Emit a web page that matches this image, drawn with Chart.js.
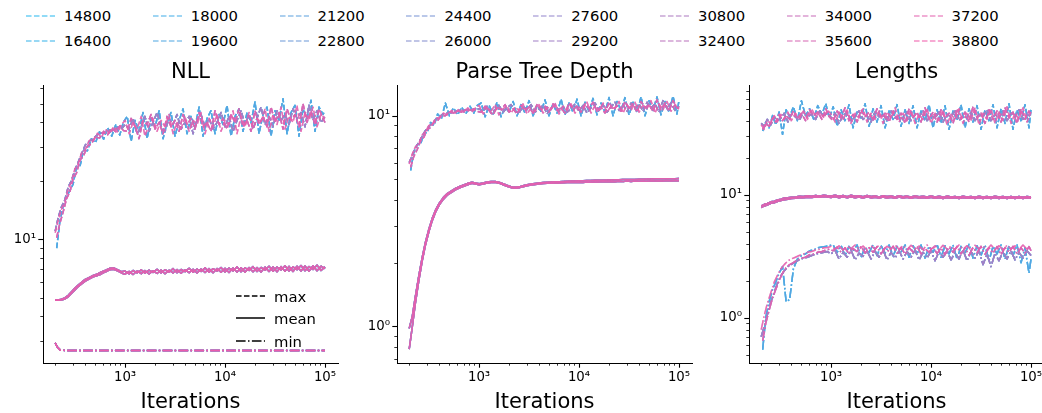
<!DOCTYPE html>
<html>
<head>
<meta charset="utf-8">
<script src="https://cdn.jsdelivr.net/npm/chart.js@4.4.0/dist/chart.umd.min.js"></script>
<style>
    html, body { margin: 0; padding: 0; background: #fff; overflow: hidden; width: 1042px; height: 413px; }
    body { position: relative; font-family: 'DejaVu Sans', sans-serif; }
    canvas { position: absolute; }
    .legend-item { position: absolute; height: 20px; display: flex; align-items: center; font-size: 14.8px; color: #000; white-space: nowrap; }
    .legend-item svg { margin-right: 9px; }
</style>
</head>
<body>
<div id="legend"></div>
<canvas id="nllChart" width="358" height="352" style="left:0px;top:61px"></canvas>
<canvas id="depthChart" width="358" height="352" style="left:354px;top:61px"></canvas>
<canvas id="lengthChart" width="358" height="352" style="left:706px;top:61px"></canvas>
<div id="inner-legend"></div>
<script>
// ---- data ----
const runLabels = ['14800', '16400', '18000', '19600', '21200', '22800', '24400', '26000',
    '27600', '29200', '30800', '32400', '34000', '35600', '37200', '38800'];

// which estimated trace each run follows (noisy curves have 4 traces, smooth ones 2)
const noisyTraceOfRun = [3, 3, 3, 2, 3, 2, 2, 2, 2, 1, 2, 1, 0, 1, 1, 0];
const smoothTraceOfRun = [0, 1, 0, 1, 0, 1, 0, 1, 0, 1, 0, 1, 0, 1, 1, 0];

// logged iterations: noisy traces A/C are sampled on the first grid, B/D on the second
const iterations = [200, 215, 230, 250, 270, 290, 315, 340, 370, 400, 440, 480, 530, 580, 640, 700, 770, 850, 920,
    1000, 1100, 1200, 1320, 1450, 1580, 1740, 1900, 2090, 2290, 2510, 2750, 3020, 3310, 3630, 3980, 4370, 4790, 5250, 5750,
    6310, 6920, 7590, 8320, 9120, 10000, 10960, 12020, 13180, 14450, 15850, 17380, 19050, 20890, 22910, 25120, 27540, 30200,
    33110, 36310, 39810, 43650, 47860, 52480, 57540, 63100, 69180, 75860, 83180, 91200, 100000];
const iterationsB = [207, 222, 240, 260, 280, 302, 327, 355, 385, 420, 460, 505, 555, 610, 670, 735, 810, 885, 960,
    1050, 1150, 1260, 1380, 1510, 1660, 1820, 1995, 2190, 2400, 2630, 2880, 3160, 3470, 3800, 4170, 4570, 5010, 5500, 6030,
    6610, 7240, 7940, 8710, 9550, 10470, 11480, 12590, 13800, 15140, 16600, 18200, 19950, 21880, 23990, 26300, 28840, 31620,
    34670, 38020, 41690, 45710, 50120, 54950, 60260, 66070, 72440, 79430, 87100, 95500, 100000];

// NLL
const nllMaxA = [10.8, 12.6, 14.2, 15.5, 18.2, 19.6, 23.1, 24.4, 28.3, 29.0, 32.4, 32.1, 35.2, 33.6, 36.8, 34.9, 38.1, 35.6, 39.0,
    41, 35, 40, 37, 43, 34, 39, 42, 36, 41, 38, 44, 35, 40, 37, 43, 36, 41, 39, 45, 35, 42, 38, 44, 36, 41, 39, 46, 35, 43,
    38, 45, 37, 42, 40, 47, 36, 44, 39, 48, 37, 43, 40, 49, 36, 45, 41, 48, 38, 44, 42];
const nllMaxB = [10.2, 12.0, 13.8, 16.2, 17.5, 20.4, 22.0, 25.6, 27.0, 30.2, 31.0, 33.8, 33.2, 36.0, 34.6, 37.2, 35.8, 38.4, 36.4,
    36, 42, 38, 33, 41, 39, 44, 37, 40, 35, 43, 38, 41, 36, 44, 39, 42, 37, 45, 38, 40, 36, 46, 39, 42, 37, 44, 40, 47, 38,
    41, 36, 46, 39, 43, 38, 48, 40, 45, 37, 47, 41, 44, 38, 50, 40, 46, 39, 47, 42, 40];
const nllMaxC = [11.0, 13.0, 14.6, 16.0, 18.6, 20.0, 22.8, 25.0, 27.8, 30.6, 32.0, 33.0, 34.6, 35.4, 35.2, 36.6, 36.2, 37.8, 37.0,
    39, 37, 42, 35, 38, 43, 36, 40, 45, 38, 36, 42, 39, 44, 37, 40, 43, 35, 41, 44, 38, 42, 37, 40, 45, 38, 43, 36, 41, 46,
    39, 44, 37, 42, 48, 39, 43, 38, 46, 41, 44, 39, 47, 42, 45, 38, 49, 41, 46, 40, 43];
const nllMaxD = [9.0, 12.2, 14.8, 16.6, 17.8, 19.2, 23.6, 24.0, 28.8, 28.6, 33.0, 31.4, 35.8, 32.8, 37.6, 34.0, 39.2, 34.4, 40.0,
    43, 32, 41, 36, 45, 33, 42, 38, 46, 33, 40, 45, 34, 41, 47, 35, 43, 38, 48, 34, 42, 46, 35, 44, 39, 49, 34, 43, 47, 36,
    45, 40, 51, 35, 44, 48, 34, 46, 41, 53, 35, 45, 49, 34, 47, 42, 52, 36, 48, 44, 46];
const nllMeanA = [4.86, 4.86, 4.9, 4.98, 5.14, 5.35, 5.6, 5.8, 6.02, 6.2, 6.36, 6.5, 6.62, 6.78, 6.92, 7.08, 7.1, 6.95, 6.8,
    6.85, 6.62, 6.9, 6.7, 6.95, 6.68, 6.92, 6.74, 7.0, 6.7, 6.96, 6.76, 7.05, 6.72, 6.98, 6.8, 7.08, 6.75, 7.02, 6.82,
    7.12, 6.76, 7.05, 6.85, 7.15, 6.78, 7.1, 6.86, 7.2, 6.8, 7.12, 6.9, 7.22, 6.82, 7.15, 6.92, 7.25, 6.84, 7.18, 6.95,
    7.3, 6.86, 7.2, 6.96, 7.32, 6.88, 7.22, 6.98, 7.35, 6.9, 7.2];
const nllMeanB = [4.84, 4.85, 4.86, 4.92, 5.05, 5.25, 5.48, 5.7, 5.9, 6.08, 6.25, 6.4, 6.5, 6.62, 6.8, 6.95, 7.0, 6.85, 6.7,
    6.6, 6.82, 6.58, 6.86, 6.64, 6.9, 6.62, 6.88, 6.66, 6.94, 6.64, 6.92, 6.7, 6.98, 6.68, 6.95, 6.72, 7.0, 6.7, 7.02,
    6.74, 7.05, 6.72, 7.06, 6.76, 7.08, 6.74, 7.1, 6.78, 7.12, 6.76, 7.14, 6.8, 7.15, 6.78, 7.18, 6.82, 7.2, 6.8, 7.22,
    6.84, 7.24, 6.82, 7.26, 6.86, 7.28, 6.84, 7.3, 6.88, 7.26, 7.05];
const nllMinIters = [200, 210, 225, 250, 1000, 10000, 100000];
const nllMin = [2.92, 2.78, 2.68, 2.67, 2.67, 2.67, 2.67];

// Parse tree depth
const depthMaxA = [5.9, 6.6, 7.1, 7.4, 8.1, 8.4, 9.0, 9.1, 9.8, 9.8, 10.3, 10.1, 10.6, 10.3, 10.8, 10.4, 10.9, 10.4, 10.9,
    11.2, 10.2, 10.9, 10.5, 11.3, 10.1, 10.8, 11.1, 10.3, 11.0, 10.6, 11.4, 10.2, 10.9, 10.5, 11.3, 10.3, 11.0, 10.7, 11.5,
    10.2, 11.1, 10.6, 11.4, 10.3, 11.0, 10.7, 11.6, 10.3, 11.2, 10.6, 11.5, 10.4, 11.1, 10.8, 11.7, 10.3, 11.3, 10.6, 11.6,
    10.4, 11.2, 10.8, 11.8, 10.3, 11.4, 10.7, 11.7, 10.5, 11.3, 10.9];
const depthMaxB = [5.7, 6.4, 6.9, 7.6, 7.9, 8.6, 8.8, 9.3, 9.5, 10.0, 10.0, 10.4, 10.3, 10.6, 10.4, 10.7, 10.5, 10.8, 10.5,
    10.4, 11.1, 10.6, 10.1, 11.0, 10.7, 11.3, 10.4, 10.8, 10.2, 11.2, 10.6, 11.0, 10.3, 11.3, 10.7, 11.1, 10.4, 11.4, 10.6,
    10.9, 10.3, 11.5, 10.7, 11.1, 10.4, 11.4, 10.8, 11.6, 10.5, 11.0, 10.3, 11.6, 10.7, 11.2, 10.5, 11.7, 10.8, 11.4, 10.4,
    11.7, 10.9, 11.3, 10.5, 11.9, 10.7, 11.5, 10.5, 11.8, 10.9, 10.8];
const depthMaxC = [6.0, 6.5, 7.0, 7.5, 8.0, 8.5, 8.9, 9.2, 9.6, 9.9, 10.2, 10.3, 10.5, 10.5, 10.6, 10.6, 10.7, 10.6, 10.7,
    10.8, 10.5, 11.1, 10.3, 10.7, 11.2, 10.4, 10.9, 11.3, 10.5, 10.3, 11.1, 10.7, 11.3, 10.4, 10.8, 11.2, 10.2, 10.9, 11.3,
    10.5, 11.1, 10.4, 10.8, 11.4, 10.5, 11.2, 10.3, 10.9, 11.5, 10.6, 11.3, 10.4, 11.0, 11.6, 10.6, 11.3, 10.5, 11.5, 10.8,
    11.4, 10.5, 11.6, 10.9, 11.4, 10.4, 11.8, 10.8, 11.5, 10.6, 11.1];
const depthMaxD = [5.5, 6.7, 7.3, 7.3, 8.3, 8.3, 9.3, 9.0, 10.2, 9.7, 11.5, 10.0, 10.9, 10.1, 11.0, 10.2, 11.1, 10.3, 11.2,
    11.5, 9.9, 11.2, 10.2, 11.6, 9.9, 11.0, 10.4, 11.7, 10.0, 11.3, 10.3, 11.8, 10.0, 11.2, 10.5, 11.9, 10.0, 11.4, 10.3,
    12.0, 10.1, 11.5, 10.4, 12.0, 10.0, 11.6, 10.5, 12.1, 10.1, 11.5, 10.4, 12.2, 10.0, 11.7, 10.6, 12.2, 10.1, 11.6, 10.4,
    12.3, 10.0, 11.8, 10.6, 12.3, 10.1, 11.7, 10.4, 12.4, 10.2, 11.9];
const depthMeanA = [0.98, 1.12, 1.38, 1.75, 2.13, 2.5, 2.9, 3.26, 3.6, 3.85, 4.1, 4.27, 4.4, 4.52, 4.62, 4.7, 4.78, 4.84, 4.8,
    4.76, 4.8, 4.85, 4.88, 4.88, 4.84, 4.76, 4.68, 4.61, 4.58, 4.6, 4.66, 4.71, 4.74, 4.77, 4.8, 4.82, 4.84, 4.85, 4.86,
    4.87, 4.88, 4.89, 4.9, 4.91, 4.92, 4.92, 4.93, 4.93, 4.94, 4.95, 4.95, 4.96, 4.96, 4.97, 4.97, 4.98, 4.98, 4.99, 4.99,
    5.0, 5.0, 5.01, 5.01, 5.02, 5.02, 5.02, 5.03, 5.03, 5.03, 5.04];
const depthMeanB = [0.78, 1.0, 1.28, 1.66, 2.05, 2.42, 2.82, 3.18, 3.52, 3.78, 4.02, 4.2, 4.33, 4.45, 4.55, 4.63, 4.71, 4.78, 4.74,
    4.7, 4.74, 4.79, 4.82, 4.83, 4.79, 4.71, 4.63, 4.56, 4.53, 4.55, 4.61, 4.66, 4.69, 4.72, 4.75, 4.77, 4.78, 4.79, 4.8,
    4.8, 4.81, 4.82, 4.82, 4.83, 4.84, 4.83, 4.85, 4.84, 4.86, 4.85, 4.87, 4.86, 4.88, 4.86, 4.89, 4.87, 4.9, 4.88, 4.9,
    4.89, 4.91, 4.89, 4.92, 4.9, 4.92, 4.9, 4.93, 4.91, 4.93, 4.92];

// Lengths
const lenMaxA = [37, 34, 40, 38, 44, 39, 45, 41, 47, 40, 46, 42, 48, 41, 50, 43, 47, 42, 49,
    45, 39, 47, 41, 49, 38, 46, 42, 50, 39, 46, 41, 48, 38, 47, 42, 51, 39, 46, 40, 49, 38, 45, 41, 50, 38, 46, 40, 49, 37,
    45, 41, 50, 38, 47, 40, 51, 37, 46, 41, 50, 38, 47, 40, 52, 38, 46, 41, 51, 39, 47];
const lenMaxB = [34, 38, 36, 42, 39, 45, 40, 44, 41, 48, 42, 46, 40, 49, 44, 47, 41, 50, 43,
    40, 48, 42, 51, 40, 45, 39, 49, 43, 47, 40, 50, 42, 46, 39, 48, 41, 46, 38, 50, 42, 47, 39, 51, 41, 47, 39, 49, 42, 46,
    38, 50, 41, 47, 39, 52, 42, 46, 38, 49, 41, 48, 39, 51, 42, 47, 38, 50, 41, 48, 44];
const lenMaxC = [38, 36, 41, 37, 43, 40, 42, 46, 39, 45, 43, 40, 47, 43, 45, 41, 48, 44, 46,
    42, 46, 38, 44, 47, 40, 43, 48, 41, 44, 39, 47, 43, 45, 40, 48, 42, 44, 41, 47, 40, 45, 43, 48, 40, 44, 42, 47, 39, 45,
    43, 48, 40, 44, 42, 47, 40, 45, 43, 49, 40, 45, 42, 48, 40, 46, 43, 49, 41, 45, 43];
const lenMaxD = [33, 39, 35, 44, 37, 47, 31, 49, 43, 52, 40, 58, 44, 50, 41, 53, 45, 55, 42,
    52, 36, 49, 40, 54, 35, 47, 42, 55, 36, 50, 39, 53, 35, 48, 41, 54, 36, 49, 38, 53, 35, 48, 40, 54, 35, 49, 38, 53, 34,
    48, 40, 54, 35, 50, 39, 53, 34, 49, 40, 54, 35, 50, 38, 55, 34, 49, 40, 54, 35, 50];
const lenMeanA = [8.1, 8.35, 8.5, 8.75, 8.85, 9.05, 9.2, 9.4, 9.45, 9.55, 9.6, 9.7, 9.65, 9.8, 9.7, 9.85, 9.75, 9.9, 9.8,
    9.75, 9.9, 9.7, 9.85, 9.65, 9.9, 9.7, 9.8, 9.62, 9.85, 9.68, 9.78, 9.6, 9.82, 9.66, 9.76, 9.6, 9.8, 9.64, 9.74,
    9.58, 9.78, 9.62, 9.72, 9.58, 9.76, 9.6, 9.7, 9.56, 9.74, 9.6, 9.68, 9.55, 9.72, 9.58, 9.68, 9.55, 9.7, 9.56, 9.66,
    9.54, 9.7, 9.56, 9.66, 9.54, 9.68, 9.55, 9.65, 9.53, 9.67, 9.6];
const lenMeanB = [7.85, 8.1, 8.25, 8.5, 8.6, 8.8, 8.95, 9.1, 9.2, 9.3, 9.35, 9.45, 9.45, 9.55, 9.5, 9.6, 9.55, 9.65, 9.6,
    9.5, 9.65, 9.45, 9.6, 9.42, 9.62, 9.45, 9.58, 9.4, 9.6, 9.42, 9.55, 9.38, 9.58, 9.4, 9.54, 9.36, 9.56, 9.4, 9.52,
    9.36, 9.54, 9.38, 9.5, 9.34, 9.52, 9.36, 9.48, 9.32, 9.5, 9.35, 9.47, 9.32, 9.5, 9.34, 9.46, 9.3, 9.48, 9.33, 9.45,
    9.3, 9.47, 9.32, 9.44, 9.3, 9.46, 9.31, 9.43, 9.3, 9.45, 9.35];
const lenMinA = [0.8, 1.05, 1.3, 1.6, 1.95, 2.2, 2.5, 2.7, 2.9, 3.0, 3.1, 3.2, 3.3, 3.4, 3.45, 3.55, 3.6, 3.7, 3.72,
    3.8, 3.6, 3.85, 3.55, 3.8, 3.65, 3.9, 3.6, 3.82, 3.55, 3.85, 3.62, 3.88, 3.58, 3.8, 3.65, 3.9, 3.6, 3.85, 3.56,
    3.88, 3.62, 3.82, 3.58, 3.9, 3.6, 3.84, 3.55, 3.88, 3.62, 3.8, 3.58, 3.9, 3.6, 3.85, 3.55, 3.88, 3.62, 3.82, 3.58,
    3.9, 3.6, 3.85, 3.56, 3.88, 3.62, 3.84, 3.58, 3.9, 3.6, 3.75];
const lenMinB = [0.65, 0.9, 1.15, 1.45, 1.7, 2.0, 2.3, 2.55, 2.7, 2.8, 2.95, 3.05, 3.1, 3.25, 3.3, 3.4, 3.45, 3.55, 3.6,
    3.5, 3.75, 3.4, 3.7, 3.3, 3.65, 3.45, 3.8, 3.35, 3.7, 3.4, 3.78, 3.3, 3.68, 3.45, 3.8, 3.35, 3.72, 3.28, 3.7,
    3.42, 3.8, 3.3, 3.65, 3.4, 3.78, 3.32, 3.7, 3.25, 3.75, 3.4, 3.8, 3.3, 3.68, 3.22, 3.72, 3.38, 3.8, 3.28, 3.7,
    3.35, 3.78, 3.25, 3.72, 3.4, 3.8, 3.3, 3.7, 3.35, 3.78, 3.5];
const lenMinC = [0.7, 0.85, 1.05, 1.35, 1.6, 1.9, 2.2, 2.4, 2.6, 2.7, 2.85, 2.95, 3.05, 3.1, 3.2, 3.3, 3.35, 3.4, 3.45,
    3.3, 3.5, 3.0, 3.4, 3.1, 3.55, 2.95, 3.35, 3.15, 3.5, 3.0, 3.45, 3.1, 3.55, 2.95, 3.4, 3.05, 3.5, 3.0, 3.45,
    3.1, 3.55, 2.95, 3.4, 3.05, 3.5, 2.9, 3.45, 3.1, 3.5, 2.95, 3.4, 3.0, 3.55, 2.9, 3.45, 3.05, 3.5, 2.7, 3.3,
    2.6, 3.35, 2.9, 3.45, 3.0, 3.5, 2.95, 3.4, 3.05, 3.5, 3.2];
const lenMinD = [0.55, 1.0, 1.35, 1.7, 1.95, 2.3, 2.6, 1.35, 1.4, 2.5, 3.0, 3.2, 3.3, 3.5, 3.55, 3.7, 3.75, 3.8, 3.85,
    3.9, 3.4, 3.85, 3.2, 3.8, 3.45, 3.9, 3.1, 3.75, 3.4, 3.9, 3.2, 3.85, 3.35, 3.9, 3.15, 3.8, 3.4, 3.9, 3.1,
    3.85, 3.3, 3.9, 3.05, 3.8, 3.4, 3.95, 3.1, 3.85, 3.3, 3.9, 3.0, 3.8, 3.35, 3.95, 3.05, 3.85, 3.2, 3.9, 2.9,
    3.8, 3.3, 3.9, 3.0, 3.85, 3.2, 3.9, 2.8, 3.7, 2.3, 3.0];

// ---- styling ----
const FONT = "'DejaVu Sans', sans-serif";
const X_MIN = 151, X_MAX = 134900;
const DASHED = [5.55, 2.4];
const DASHDOT = [9.6, 2.4, 1.5, 2.4];
const SUP = { '-': '\u207b', '0': '\u2070', '1': '\u00b9', '2': '\u00b2', '3': '\u00b3', '4': '\u2074', '5': '\u2075' };

function runColor(r, alpha) {
    const t = r / (runLabels.length - 1);
    const red = Math.round(40 + (240 - 40) * t);
    const green = Math.round(185 + (90 - 185) * t);
    const blue = Math.round(240 + (170 - 240) * t);
    return `rgba(${red}, ${green}, ${blue}, ${alpha})`;
}

// log ticks 1..9 x 10^e inside the axis range, decades get labels
function logTicks(scale) {
    const ticks = [];
    for (let e = -1; e <= 5; e++) {
        for (let m = 1; m <= 9; m++) {
            const v = m * Math.pow(10, e);
            if (v >= scale.min && v <= scale.max) ticks.push({ value: v, decade: m === 1, exp: e });
        }
    }
    scale.ticks = ticks;
}

function decadeLabel(value, index, ticks) {
    const t = ticks[index];
    if (!t || !t.decade) return '';
    return '10' + String(t.exp).split('').map(c => SUP[c]).join('');
}

const tickMarks = {
    id: 'tickMarks',
    afterDraw(chart) {
        const ctx = chart.ctx;
        const { left, bottom } = chart.chartArea;
        ctx.save();
        ctx.strokeStyle = '#000';
        chart.scales.x.ticks.forEach(t => {
            const p = Math.round(chart.scales.x.getPixelForValue(t.value)) + 0.5;
            ctx.lineWidth = t.decade ? 1.1 : 0.8;
            ctx.beginPath();
            ctx.moveTo(p, bottom);
            ctx.lineTo(p, bottom + (t.decade ? 4.7 : 2.7));
            ctx.stroke();
        });
        chart.scales.y.ticks.forEach(t => {
            const p = Math.round(chart.scales.y.getPixelForValue(t.value)) + 0.5;
            ctx.lineWidth = t.decade ? 1.1 : 0.8;
            ctx.beginPath();
            ctx.moveTo(left, p);
            ctx.lineTo(left - (t.decade ? 4.7 : 2.7), p);
            ctx.stroke();
        });
        ctx.restore();
    }
};

const panelTitle = {
    id: 'panelTitle',
    afterDraw(chart, args, opts) {
        const ctx = chart.ctx;
        const { left, right, top } = chart.chartArea;
        ctx.save();
        ctx.fillStyle = '#000';
        ctx.font = `21px ${FONT}`;
        ctx.textAlign = 'center';
        ctx.textBaseline = 'middle';
        ctx.fillText(opts.text, (left + right) / 2, top - 12);
        ctx.restore();
    }
};

function makePanel(canvasId, title, yMin, yMax, curves) {
    const datasets = [];
    runLabels.forEach((run, r) => {
        curves.forEach(curve => {
            const k = curve.traceOfRun[r];
            const ys = curve.traces[k];
            const xs = curve.iters[k % curve.iters.length];
            datasets.push({
                label: run,
                data: xs.map((it, i) => ({ x: it, y: ys[i] })),
                borderColor: runColor(r, 0.68),
                borderWidth: 1.5,
                borderDash: curve.dash,
                borderJoinStyle: 'round',
                pointRadius: 0,
                tension: 0,
                fill: false,
                order: 100000 - datasets.length
            });
        });
    });

    new Chart(document.getElementById(canvasId), {
        type: 'line',
        data: { datasets },
        plugins: [tickMarks, panelTitle],
        options: {
            responsive: false,
            animation: false,
            devicePixelRatio: 1,
            layout: { padding: { top: 24, right: 20, left: 0, bottom: 0 } },
            plugins: {
                legend: { display: false },
                tooltip: { enabled: false },
                title: { display: false },
                panelTitle: { text: title }
            },
            scales: {
                x: {
                    type: 'logarithmic',
                    min: X_MIN,
                    max: X_MAX,
                    grid: { display: false, drawTicks: false },
                    border: { display: true, color: '#000', width: 1 },
                    ticks: { autoSkip: false, maxRotation: 0, padding: 7, color: '#000', font: { family: FONT, size: 13.3 }, callback: decadeLabel },
                    afterBuildTicks: logTicks,
                    afterFit: s => { s.height = 50; },
                    title: { display: true, text: 'Iterations', color: '#000', font: { family: FONT, size: 21, lineHeight: '21px' }, padding: { top: 0, bottom: 0 } }
                },
                y: {
                    type: 'logarithmic',
                    min: yMin,
                    max: yMax,
                    grid: { display: false, drawTicks: false },
                    border: { display: true, color: '#000', width: 1 },
                    ticks: { autoSkip: false, padding: 7, color: '#000', font: { family: FONT, size: 13.3 }, callback: decadeLabel },
                    afterBuildTicks: logTicks,
                    afterFit: s => { s.width = 43; }
                }
            }
        }
    });
}

const NOISY_GRIDS = [iterations, iterationsB];
const SMOOTH_GRIDS = [iterations];

makePanel('nllChart', 'NLL', 2.30, 62.4, [
    { traces: [nllMaxA, nllMaxB, nllMaxC, nllMaxD], traceOfRun: noisyTraceOfRun, iters: NOISY_GRIDS, dash: DASHED },
    { traces: [nllMeanA, nllMeanB], traceOfRun: smoothTraceOfRun, iters: SMOOTH_GRIDS, dash: [] },
    { traces: [nllMin], traceOfRun: runLabels.map(() => 0), iters: [nllMinIters], dash: DASHDOT }
]);

makePanel('depthChart', 'Parse Tree Depth', 0.671, 14.0, [
    { traces: [depthMaxA, depthMaxB, depthMaxC, depthMaxD], traceOfRun: noisyTraceOfRun, iters: NOISY_GRIDS, dash: DASHED },
    { traces: [depthMeanA, depthMeanB], traceOfRun: smoothTraceOfRun, iters: SMOOTH_GRIDS, dash: [] }
]);

makePanel('lengthChart', 'Lengths', 0.428, 78.0, [
    { traces: [lenMaxA, lenMaxB, lenMaxC, lenMaxD], traceOfRun: noisyTraceOfRun, iters: NOISY_GRIDS, dash: DASHED },
    { traces: [lenMeanA, lenMeanB], traceOfRun: smoothTraceOfRun, iters: SMOOTH_GRIDS, dash: [] },
    { traces: [lenMinA, lenMinB, lenMinC, lenMinD], traceOfRun: noisyTraceOfRun, iters: NOISY_GRIDS, dash: DASHDOT }
]);

// ---- figure legend (runs) ----
function dashSvg(color, dash) {
    const da = dash.length ? `stroke-dasharray="${dash.join(' ')}"` : '';
    return `<svg width="29" height="4"><line x1="0" y1="2" x2="29" y2="2" stroke="${color}" stroke-width="1.5" ${da}/></svg>`;
}

const legendBox = document.getElementById('legend');
runLabels.forEach((run, r) => {
    const col = Math.floor(r / 2), row = r % 2;
    const item = document.createElement('div');
    item.className = 'legend-item';
    item.style.left = (26 + col * 126.8) + 'px';
    item.style.top = (row === 0 ? 5.5 : 30.5) + 'px';
    item.innerHTML = dashSvg(runColor(r, 0.68), DASHED) + `<span>${run}</span>`;
    legendBox.appendChild(item);
});

// ---- line style legend inside the NLL panel ----
const innerBox = document.getElementById('inner-legend');
[['max', DASHED, 286], ['mean', [], 308], ['min', DASHDOT, 331]].forEach(([name, dash, top]) => {
    const item = document.createElement('div');
    item.className = 'legend-item';
    item.style.left = '236px';
    item.style.top = top + 'px';
    item.innerHTML = dashSvg('#000', dash) + `<span>${name}</span>`;
    innerBox.appendChild(item);
});
</script>
</body>
</html>
